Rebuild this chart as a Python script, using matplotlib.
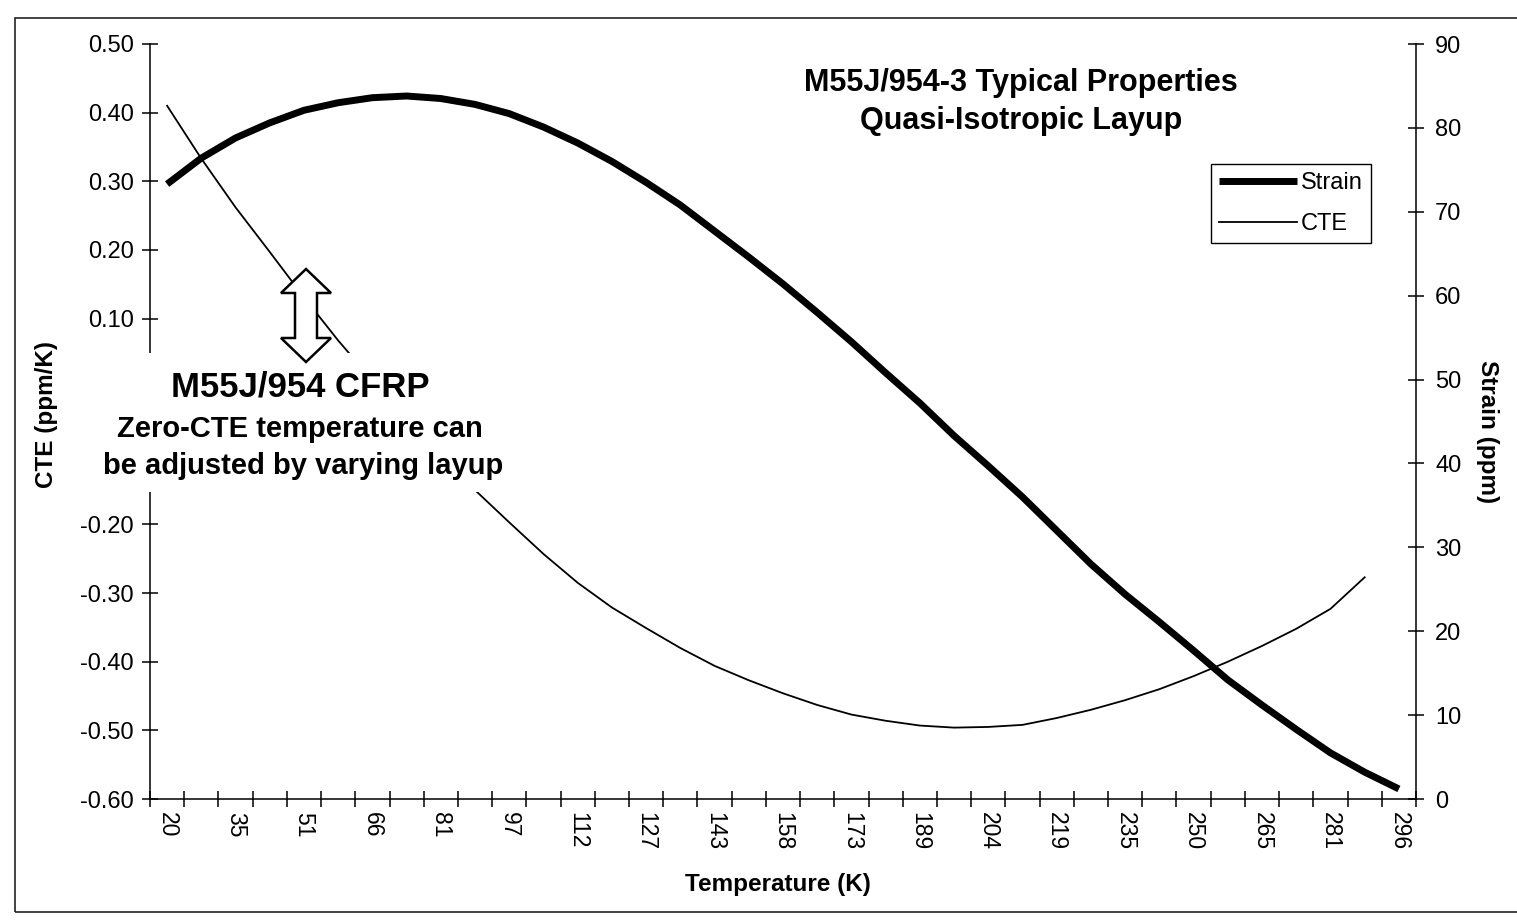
import numpy as np
import matplotlib.pyplot as plt
from matplotlib.patches import Rectangle, Polygon
from matplotlib.ticker import FuncFormatter

plt.rcParams['font.family'] = ['Liberation Sans', 'DejaVu Sans']

# temperature categories (K)
temps = [20, 28, 35, 43, 51, 58, 66, 74, 81, 89, 97, 104, 112, 120, 127, 135,
         143, 150, 158, 166, 173, 181, 189, 196, 204, 212, 219, 227, 235, 242,
         250, 258, 265, 273, 281, 288, 296]

# strain (ppm), right axis
strain = [73.3, 76.4, 78.8, 80.6, 82.1, 83.0, 83.6, 83.8, 83.5, 82.8, 81.7,
          80.1, 78.2, 76.0, 73.5, 70.8, 67.7, 64.6, 61.4, 58.0, 54.5, 50.8,
          47.2, 43.3, 39.7, 36.0, 32.0, 28.0, 24.4, 21.1, 17.7, 14.2, 11.2,
          8.3, 5.5, 3.2, 1.2]

# CTE (ppm/K), left axis
cte = [0.410, 0.333, 0.262, 0.197, 0.131, 0.068, 0.010, -0.048, -0.100,
       -0.150, -0.197, -0.243, -0.285, -0.321, -0.351, -0.380, -0.406, -0.427,
       -0.446, -0.463, -0.477, -0.486, -0.493, -0.496, -0.495, -0.492, -0.482,
       -0.470, -0.456, -0.440, -0.421, -0.400, -0.377, -0.352, -0.323, -0.277]

cte_ticks = [-0.6, -0.5, -0.4, -0.3, -0.2, -0.1, 0.0, 0.1, 0.2, 0.3, 0.4, 0.5]
# these two labels sit under the callout box in the original
hidden_ticks = [0.0, -0.1]
strain_ticks = [0, 10, 20, 30, 40, 50, 60, 70, 80, 90]

W, H = 1517, 923


def fx(px):
    return px / W


def fy(py):
    return 1 - py / H


def cte_fmt(v, pos):
    if any(abs(v - h) < 1e-6 for h in hidden_ticks):
        return ''
    return '%.2f' % v


fig = plt.figure(figsize=(W / 100, H / 100), dpi=100)
ax = fig.add_axes([fx(150), fy(799), 1266 / W, 755 / H])
ax2 = ax.twinx()

x_cte = np.arange(len(cte))
x_strain = np.arange(len(strain))
cte_line, = ax.plot(x_cte, cte, color='black', lw=1.3)
strain_line, = ax2.plot(x_strain, strain, color='black', lw=5,
                        solid_capstyle='butt')

ax.set_xlim(-0.5, len(temps) - 0.5)
ax.set_ylim(-0.6, 0.5)
ax2.set_ylim(0, 90)

# category boundaries get the tick marks, labels sit on every other category
ax.set_xticks(np.arange(len(temps) + 1) - 0.5)
ax.set_xticklabels([])
ax.set_xticks(np.arange(0, len(temps), 2), minor=True)
ax.set_xticklabels([str(t) for t in temps[::2]], minor=True, rotation=270)
ax.tick_params(axis='x', which='major', direction='inout', length=11.5,
               width=1.1)
ax.tick_params(axis='x', which='minor', length=0, pad=9, labelsize=16.5)

ax.set_yticks(cte_ticks)
ax.yaxis.set_major_formatter(FuncFormatter(cte_fmt))
ax.tick_params(axis='y', direction='inout', length=11.5, width=1.1, pad=6,
               labelsize=17)
ax2.set_yticks(strain_ticks)
ax2.tick_params(axis='y', direction='inout', length=11.5, width=1.1, pad=8,
                labelsize=17)

for a in (ax, ax2):
    a.spines['top'].set_visible(False)
    for s in a.spines.values():
        s.set_linewidth(1.1)
ax.spines['right'].set_visible(False)
ax2.spines['left'].set_visible(False)
ax2.spines['bottom'].set_visible(False)

ax2.legend([strain_line, cte_line], ['Strain', 'CTE'], loc='upper left',
           bbox_to_anchor=(fx(1211), fy(164)), bbox_transform=fig.transFigure,
           fancybox=False, edgecolor='black', framealpha=1, fontsize=17,
           handlelength=3.3, handletextpad=0.15, borderpad=0.35,
           labelspacing=0.8, borderaxespad=0).get_frame().set_linewidth(1)

fig.text(fx(47), fy(415), 'CTE (ppm/K)', rotation=90, ha='center',
         va='center', fontsize=17.5, fontweight='bold')
fig.text(fx(1487), fy(432), 'Strain (ppm)', rotation=270, ha='center',
         va='center', fontsize=17.5, fontweight='bold')
fig.text(fx(778), fy(884), 'Temperature (K)', ha='center', va='center',
         fontsize=17.5, fontweight='bold')

fig.text(fx(1021), fy(83), 'M55J/954-3 Typical Properties', ha='center',
         va='center', fontsize=22, fontweight='bold')
fig.text(fx(1021), fy(121), 'Quasi-Isotropic Layup', ha='center',
         va='center', fontsize=22, fontweight='bold')

# white callout box over the left part of the plot
fig.add_artist(Rectangle((fx(82), fy(492)), (520 - 82) / W, (492 - 353) / H,
                         transform=fig.transFigure, facecolor='white',
                         edgecolor='none', zorder=2))
fig.text(fx(300), fy(387), 'M55J/954 CFRP', ha='center', va='center',
         fontsize=25, fontweight='bold', zorder=3)
fig.text(fx(300), fy(429), 'Zero-CTE temperature can', ha='center',
         va='center', fontsize=21, fontweight='bold', zorder=3)
fig.text(fx(303), fy(466), 'be adjusted by varying layup', ha='center',
         va='center', fontsize=21, fontweight='bold', zorder=3)

# hollow double arrow
arrow_px = [(306, 269), (331, 293), (317, 293), (317, 338), (331, 338),
            (306, 362), (281, 338), (295, 338), (295, 293), (281, 293)]
fig.add_artist(Polygon([(fx(px), fy(py)) for px, py in arrow_px], closed=True,
                       transform=fig.transFigure, facecolor='white',
                       edgecolor='black', lw=1.8, zorder=4))

# chart area border (right edge runs off the page)
fig.add_artist(Rectangle((fx(15), fy(912)), (1540 - 15) / W, (912 - 18) / H,
                         transform=fig.transFigure, facecolor='none',
                         edgecolor='#222222', lw=1.2, zorder=1))

fig.savefig('out.png', dpi=100)
